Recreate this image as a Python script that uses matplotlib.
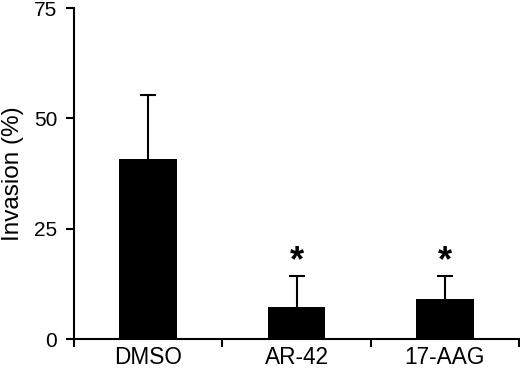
import numpy as np
import matplotlib.pyplot as plt

plt.rcParams['font.family'] = ['Liberation Sans', 'DejaVu Sans']

groups = ['DMSO', 'AR-42', '17-AAG']
invasion = [40.9, 7.3, 9.1]
sem = [14.4, 7.0, 5.2]
marks = ['', '*', '*']

fig = plt.figure(figsize=(5.2, 3.68), dpi=100)
ax = fig.add_axes([0.1423, 0.0788, 0.856, 0.899])

x = np.arange(len(groups))
ax.bar(x, invasion, width=0.39, color='black', zorder=2)
# only the upper half shows, the lower half is hidden behind the bar
ax.errorbar(x, invasion, yerr=sem, fmt='none',
            ecolor='black', elinewidth=1.5, capsize=5.8, capthick=1.5, zorder=1)

for xi, v, e, m in zip(x, invasion, sem, marks):
    if m:
        ax.text(xi, v + e + 1.1, m, ha='center', va='baseline',
                fontsize=26, fontweight='bold')

ax.set_xlim(-0.5, 2.5)
ax.set_ylim(0, 75)
ax.set_yticks([0, 25, 50, 75])
ax.set_xticks(x)
ax.set_xticklabels(groups, fontsize=16.3)
ax.set_xticks([-0.5, 0.5, 1.5, 2.5], minor=True)
ax.tick_params(axis='x', which='major', length=0, pad=5)
ax.tick_params(axis='x', which='minor', length=6, width=1.5, direction='out')
ax.tick_params(axis='y', length=6, width=1.5, direction='out', labelsize=15, pad=6)
ax.set_ylabel('Invasion (%)', fontsize=17.5, labelpad=7)

for s in ['top', 'right']:
    ax.spines[s].set_visible(False)
for s in ['left', 'bottom']:
    ax.spines[s].set_linewidth(1.5)

fig.savefig('out.png', dpi=100)
